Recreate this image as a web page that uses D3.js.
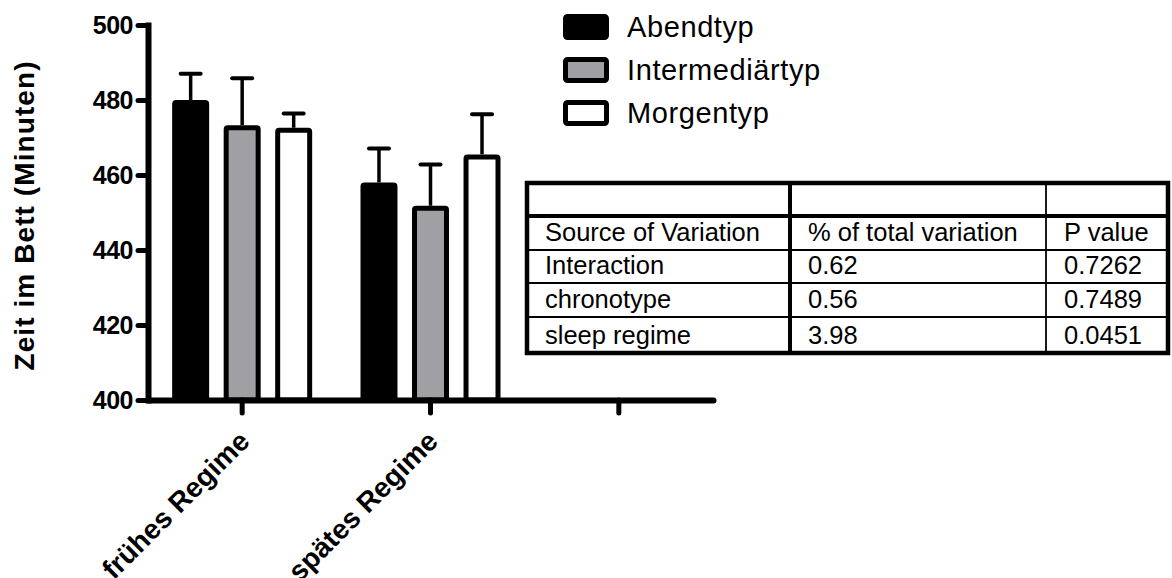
<!DOCTYPE html>
<html>
<head>
<meta charset="utf-8">
<script src="https://cdn.jsdelivr.net/npm/d3@7"></script>
<style>
  html, body { margin: 0; padding: 0; background: #fff; }
  svg { display: block; font-family: "Liberation Sans", Arial, Helvetica, sans-serif; }
</style>
</head>
<body>
<svg id="chart" width="1172" height="578"></svg>
<script>
// ---- data ----
const categories = ["frühes Regime", "spätes Regime", ""];
const seriesNames = ["Abendtyp", "Intermediärtyp", "Morgentyp"];
const seriesColors = ["#000000", "#a0a0a4", "#ffffff"];
const meanAbend = [480.0, 458.0];
const meanInter = [473.3, 451.8];
const meanMorgen = [472.6, 465.5];
const errTopAbend = [487.0, 467.1];
const errTopInter = [485.8, 462.8];
const errTopMorgen = [476.4, 476.2];
const yTicks = [400, 420, 440, 460, 480, 500];
const yTitle = "Zeit im Bett (Minuten)";

const tableHeader = ["Source of Variation", "% of total variation", "P value"];
const tableSources = ["Interaction", "chronotype", "sleep regime"];
const tablePercent = ["0.62", "0.56", "3.98"];
const tablePValues = ["0.7262", "0.7489", "0.0451"];

// ---- layout ----
const svg = d3.select("#chart");
const plotLeft = 148, plotRight = 713, plotTop = 25, plotBottom = 400;

const x0 = d3.scaleBand().domain(categories).range([plotLeft, plotRight]).paddingInner(0).paddingOuter(0);
const x1 = d3.scaleBand().domain(seriesNames).range([0, x0.bandwidth()]).paddingInner(0.282).paddingOuter(0.469);
const y = d3.scaleLinear().domain([400, 500]).range([plotBottom, plotTop]);

const means = [meanAbend, meanInter, meanMorgen];
const errs = [errTopAbend, errTopInter, errTopMorgen];
const rows = [];
categories.slice(0, 2).forEach((c, ci) => {
  seriesNames.forEach((s, si) => {
    rows.push({cat: c, series: s, color: seriesColors[si], v: means[si][ci], e: errs[si][ci]});
  });
});

const sw = 5;
// error bars (behind bars)
const eg = svg.append("g");
rows.forEach(d => {
  const cx = x0(d.cat) + x1(d.series) + x1.bandwidth() / 2;
  eg.append("line").attr("x1", cx).attr("x2", cx).attr("y1", y(d.v)).attr("y2", y(d.e))
    .attr("stroke", "#000").attr("stroke-width", 3.5);
  eg.append("line").attr("x1", cx - 10).attr("x2", cx + 10).attr("y1", y(d.e)).attr("y2", y(d.e))
    .attr("stroke", "#000").attr("stroke-width", 4).attr("stroke-linecap", "round");
});

// bars
svg.append("g").selectAll("rect").data(rows).join("rect")
  .attr("x", d => x0(d.cat) + x1(d.series) + sw / 2)
  .attr("width", x1.bandwidth() - sw)
  .attr("y", d => y(d.v) + sw / 2)
  .attr("height", d => plotBottom - y(d.v) - sw / 2)
  .attr("rx", 1.5)
  .attr("fill", d => d.color)
  .attr("stroke", "#000")
  .attr("stroke-width", sw)
  .attr("stroke-linejoin", "round");

// y axis
const yAxis = svg.append("g").attr("transform", `translate(${plotLeft},0)`)
  .call(d3.axisLeft(y).tickValues(yTicks).tickSize(10).tickSizeOuter(0).tickPadding(5));
yAxis.select(".domain").attr("stroke-width", 6).attr("stroke-linecap", "square");
yAxis.selectAll(".tick line").attr("stroke-width", 5).attr("stroke-linecap", "round");
yAxis.selectAll(".tick text").attr("font-size", 25).attr("font-weight", "bold")
  .attr("font-family", "Liberation Sans, Arial, sans-serif").attr("fill", "#000")
  .attr("letter-spacing", -0.5);

// x axis
const xAxis = svg.append("g").attr("transform", `translate(0,${plotBottom})`)
  .call(d3.axisBottom(x0).tickSize(13).tickSizeOuter(0));
xAxis.select(".domain").attr("stroke-width", 6).attr("stroke-linecap", "round");
xAxis.selectAll(".tick line").attr("stroke-width", 5).attr("stroke-linecap", "round");
xAxis.selectAll(".tick text")
  .attr("x", 0).attr("y", 0).attr("dy", 0)
  .attr("transform", "translate(9,43) rotate(-45)")
  .attr("text-anchor", "end")
  .attr("font-size", 28).attr("font-weight", "bold")
  .attr("font-family", "Liberation Sans, Arial, sans-serif").attr("fill", "#000");

// y title
svg.append("text")
  .attr("transform", "translate(34,216) rotate(-90)")
  .attr("text-anchor", "middle")
  .attr("font-size", 28).attr("font-weight", "bold")
  .attr("textLength", 309).attr("lengthAdjust", "spacing")
  .text(yTitle);

// legend
const legendY = [27, 70, 113];
const lg = svg.append("g");
seriesNames.forEach((s, i) => {
  lg.append("rect").attr("x", 565.5).attr("y", legendY[i] - 10.5).attr("width", 41).attr("height", 21)
    .attr("rx", 2).attr("fill", seriesColors[i]).attr("stroke", "#000").attr("stroke-width", 5);
  lg.append("text").attr("x", 627).attr("y", legendY[i] + 9.5)
    .attr("font-size", 29).attr("letter-spacing", 0.6).attr("fill", "#000").text(s);
});

// table
const tX = [527, 790, 1046, 1168];
const tY = [183, 216, 250, 283, 317, 353];
const tg = svg.append("g");
const tableRows = [["", "", ""], tableHeader].concat(tableSources.map((s, i) => [s, tablePercent[i], tablePValues[i]]));
tableRows.forEach((r, ri) => {
  r.forEach((t, ci) => {
    if (!t) return;
    tg.append("text").attr("x", tX[ci] + 18).attr("y", tY[ri + 1] - 9.5)
      .attr("font-size", 25.5).attr("fill", "#000").text(t);
  });
});
// thin lines
[2, 3, 4].forEach(i => tg.append("line").attr("x1", tX[0]).attr("x2", tX[3]).attr("y1", tY[i]).attr("y2", tY[i])
  .attr("stroke", "#000").attr("stroke-width", 1.8));
tg.append("line").attr("x1", tX[2]).attr("x2", tX[2]).attr("y1", tY[0]).attr("y2", tY[5])
  .attr("stroke", "#000").attr("stroke-width", 1.8);
// thick lines
tg.append("line").attr("x1", tX[0]).attr("x2", tX[3]).attr("y1", tY[1]).attr("y2", tY[1])
  .attr("stroke", "#000").attr("stroke-width", 4);
tg.append("line").attr("x1", tX[1]).attr("x2", tX[1]).attr("y1", tY[0]).attr("y2", tY[5])
  .attr("stroke", "#000").attr("stroke-width", 4);
tg.append("rect").attr("x", tX[0]).attr("y", tY[0]).attr("width", tX[3] - tX[0]).attr("height", tY[5] - tY[0])
  .attr("fill", "none").attr("stroke", "#000").attr("stroke-width", 4.5);
</script>
</body>
</html>
